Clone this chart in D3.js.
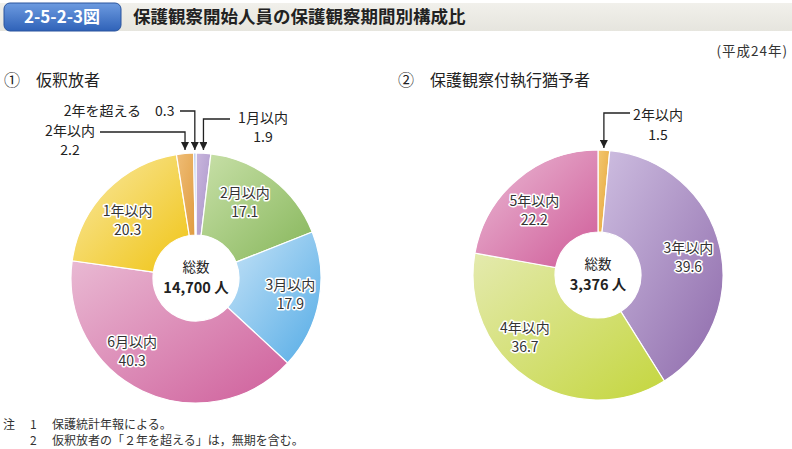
<!DOCTYPE html>
<html>
<head>
<meta charset="utf-8">
<script src="https://cdn.jsdelivr.net/npm/d3@7"></script>
<style>
  body { margin: 0; background: #fff; }
  svg { display: block; font-family: "Noto Sans CJK JP", "Noto Sans", sans-serif; }
</style>
</head>
<body>
<div id="chart"></div>
<script>
// data
const leftCats = ["1月以内", "2月以内", "3月以内", "6月以内", "1年以内", "2年以内", "2年を超える"];
const leftVals = [1.9, 17.1, 17.9, 40.3, 20.3, 2.2, 0.3];
const leftColors = [["#c9b6dd", "#a994c9"], ["#c8e0a8", "#86b65a"], ["#c6e3f7", "#55ace6"],
                    ["#e9b9d3", "#cf5f9b"], ["#f9e9a4", "#f0c414"], ["#efbd76", "#e09c40"], ["#aac0ea", "#aac0ea"]];
const rightCats = ["2年以内", "3年以内", "4年以内", "5年以内"];
const rightVals = [1.5, 39.6, 36.7, 22.2];
const rightColors = [["#f2c66f", "#e6a63a"], ["#cdbde0", "#8e6aab"], ["#e4eaae", "#c4d63e"], ["#ebbcd6", "#cf5b98"]];

// label nudges (px) away from the slice centroid
const leftNudge = [[0, 0], [-8, -2], [3, -1], [-24, -11], [-2, 7], [0, 0], [0, 0]];
const rightNudge = [[0, 0], [0, 3], [-21, -15], [-4, 6]];

const W = 792, H = 449;
const svg = d3.select("#chart").append("svg")
    .attr("width", W).attr("height", H);
const defs = svg.append("defs");

// title bar
const tg = defs.append("linearGradient").attr("id", "band")
    .attr("x1", 0).attr("y1", 0).attr("x2", 0).attr("y2", 1);
tg.append("stop").attr("offset", 0).attr("stop-color", "#f1f0eb");
tg.append("stop").attr("offset", 1).attr("stop-color", "#e6e5de");
svg.append("rect").attr("x", 0).attr("y", 3).attr("width", W).attr("height", 28).attr("fill", "url(#band)");

const bg = defs.append("linearGradient").attr("id", "badge")
    .attr("x1", 0).attr("y1", 0).attr("x2", 0).attr("y2", 1);
bg.append("stop").attr("offset", 0).attr("stop-color", "#6d9be0");
bg.append("stop").attr("offset", 1).attr("stop-color", "#2f62b8");
svg.append("rect").attr("x", 4).attr("y", 3).attr("width", 117).attr("height", 28).attr("rx", 6)
    .attr("fill", "url(#badge)").attr("stroke", "#2a559e").attr("stroke-width", 1);
svg.append("text").attr("x", 62).attr("y", 23).attr("text-anchor", "middle")
    .attr("fill", "#fff").attr("font-size", 17).attr("font-weight", "bold")
    .text("2-5-2-3図");
svg.append("text").attr("x", 133).attr("y", 23)
    .attr("fill", "#222").attr("font-size", 17.5).attr("font-weight", "bold")
    .text("保護観察開始人員の保護観察期間別構成比");

svg.append("text").attr("x", 788).attr("y", 56).attr("text-anchor", "end")
    .attr("fill", "#333").attr("font-size", 13.5).attr("letter-spacing", 1).text("(平成24年)");

svg.append("text").attr("x", 4).attr("y", 86).attr("fill", "#222").attr("font-size", 16).text("①　仮釈放者");
svg.append("text").attr("x", 398).attr("y", 86).attr("fill", "#222").attr("font-size", 16).text("②　保護観察付執行猶予者");

// arrow marker
defs.append("marker").attr("id", "arrow")
    .attr("viewBox", "0 0 10 10").attr("refX", 10).attr("refY", 5)
    .attr("markerWidth", 8).attr("markerHeight", 8).attr("orient", "auto")
    .attr("markerUnits", "userSpaceOnUse")
    .append("path").attr("d", "M0,0L10,5L0,10Z").attr("fill", "#222");

function donut(id, cx, cy, cats, vals, colors, nudge, total, skipLabel) {
    const g = svg.append("g").attr("transform", `translate(${cx},${cy})`);
    const pie = d3.pie().sort(null).value(d => d)(vals);
    const arc = d3.arc().innerRadius(43).outerRadius(125);
    const labelArc = d3.arc().innerRadius(93).outerRadius(93);

    colors.forEach((c, i) => {
        const gr = defs.append("linearGradient").attr("id", `${id}-g${i}`)
            .attr("x1", 0).attr("y1", 0).attr("x2", 1).attr("y2", 1);
        gr.append("stop").attr("offset", 0).attr("stop-color", c[0]);
        gr.append("stop").attr("offset", 1).attr("stop-color", c[1]);
    });

    g.selectAll("path.slice").data(pie).enter().append("path")
        .attr("class", "slice")
        .attr("d", arc)
        .attr("fill", (d, i) => `url(#${id}-g${i})`)
        .attr("stroke", "#fff").attr("stroke-width", 1.2);

    // in-slice labels
    pie.forEach((d, i) => {
        if (skipLabel.includes(i)) return;
        const c = labelArc.centroid(d);
        const x = c[0] + nudge[i][0], y = c[1] + nudge[i][1];
        const t = g.append("text").attr("text-anchor", "middle")
            .attr("font-size", 14).attr("fill", "#333")
            .attr("stroke", "#fff").attr("stroke-width", 3).attr("paint-order", "stroke")
            .attr("stroke-linejoin", "round");
        t.append("tspan").attr("x", x).attr("y", y - 4).text(cats[i]);
        t.append("tspan").attr("x", x).attr("y", y + 15).text(vals[i].toFixed(1));
    });

    g.append("text").attr("text-anchor", "middle").attr("y", -6)
        .attr("font-size", 13.5).attr("fill", "#222").text("総数");
    g.append("text").attr("text-anchor", "middle").attr("y", 15)
        .attr("font-size", 14.5).attr("font-weight", "bold").attr("fill", "#222").text(total);
    return { g, pie, arc };
}

const L = donut("L", 196, 278, leftCats, leftVals, leftColors, leftNudge, "14,700 人", [0, 5, 6]);
const R = donut("R", 598, 275, rightCats, rightVals, rightColors, rightNudge, "3,376 人", [0]);

// callouts
function tipX(d, cx) {
    const a = (d.startAngle + d.endAngle) / 2;
    return cx + Math.sin(a) * 125;
}
const lineStyle = s => s.attr("fill", "none").attr("stroke", "#222").attr("stroke-width", 1.3)
    .attr("marker-end", "url(#arrow)");

const txt = (x, y, s, anchor) => svg.append("text").attr("x", x).attr("y", y)
    .attr("text-anchor", anchor || "start").attr("font-size", 14).attr("fill", "#222").text(s);

// left: 1月以内
let x0 = tipX(L.pie[0], 196);
lineStyle(svg.append("path").attr("d", `M230,119H${x0}V150`));
txt(263, 123, leftCats[0], "middle");
txt(263, 142, leftVals[0].toFixed(1), "middle");
// left: 2年を超える
x0 = tipX(L.pie[6], 196);
lineStyle(svg.append("path").attr("d", `M180,111H${x0}V150`));
txt(141, 116, leftCats[6], "end");
txt(155, 116, leftVals[6].toFixed(1));
// left: 2年以内
x0 = tipX(L.pie[5], 196);
lineStyle(svg.append("path").attr("d", `M100,132H${x0}V150`));
txt(70, 136, leftCats[5], "middle");
txt(70, 155, leftVals[5].toFixed(1), "middle");
// right: 2年以内
x0 = tipX(R.pie[0], 598);
lineStyle(svg.append("path").attr("d", `M630,113H${x0}V148`));
txt(658, 120, rightCats[0], "middle");
txt(658, 140, rightVals[0].toFixed(1), "middle");

// notes
const notes = [["注", "1", "保護統計年報による。"], ["", "2", "仮釈放者の「２年を超える」は，無期を含む。"]];
notes.forEach((n, i) => {
    const y = 429 + i * 16;
    svg.append("text").attr("x", 3).attr("y", y).attr("font-size", 12).attr("fill", "#333").text(n[0]);
    svg.append("text").attr("x", 30).attr("y", y).attr("font-size", 12).attr("fill", "#333").text(n[1]);
    svg.append("text").attr("x", 52).attr("y", y).attr("font-size", 12).attr("fill", "#333").text(n[2]);
});
</script>
</body>
</html>
